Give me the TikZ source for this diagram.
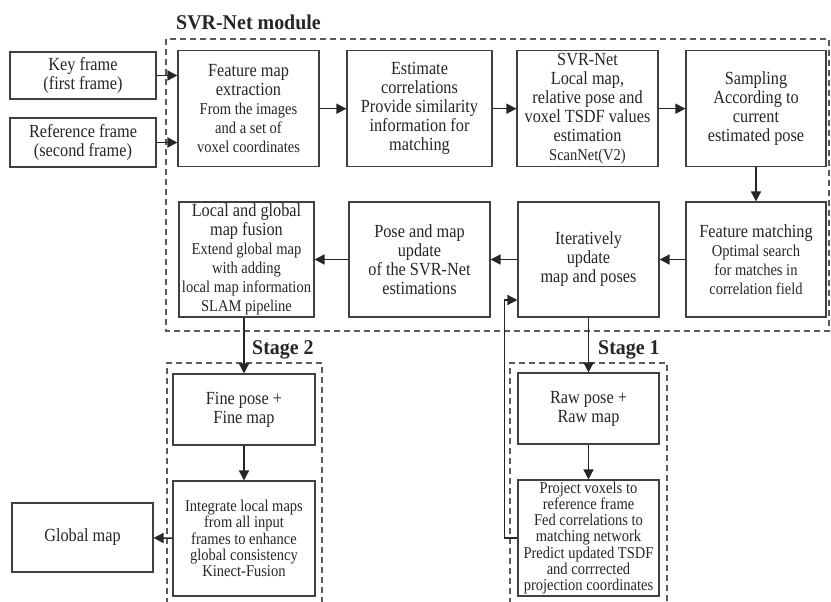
\documentclass[tikz,border=0pt]{standalone}
\usepackage{fontspec}
\setmainfont{Liberation Serif}[FakeStretch=0.88]
\newfontfamily\headfont{Liberation Serif}[FakeStretch=0.95]
\usetikzlibrary{arrows.meta,calc}
\definecolor{ink}{HTML}{262626}
\definecolor{edge}{HTML}{404040}
\definecolor{dash}{HTML}{5A5A5A}
\newcommand{\bigtxt}{\fontsize{18.5}{19}\selectfont}
\newcommand{\smalltxt}{\fontsize{16.5}{16.3}\selectfont}
\begin{document}
\begin{tikzpicture}[x=1pt,y=-1pt,
  box/.style={draw=edge,line width=1.1pt,fill=white,text=ink,align=center,
    inner sep=1pt,font=\bigtxt},
  arr/.style={draw=ink,line width=1.5pt,-{Triangle[length=10pt,width=10pt]}},
  region/.style={draw=dash,line width=1.1pt,dash pattern=on 6pt off 4pt},
  title/.style={font=\headfont\fontsize{21}{22}\selectfont\bfseries,text=ink,inner sep=0pt,anchor=west}]
\useasboundingbox (0,0) rectangle (831,602);
\fill[white] (0,0) rectangle (831,602);

% dashed regions
\draw[region] (166,39) rectangle (829,331);
\draw[region] (167,604) -- (167,363) -- (322,363) -- (322,604);
\draw[region] (510,604) -- (510,363) -- (667,363) -- (667,604);

% region titles
\node[title] (tsvr) at (176,22) {SVR-Net module};
\node[title] (tst2) at (252,350) {Stage 2};
\node[title] (tst1) at (598,350) {Stage 1};

% inputs
\node[box,minimum width=146pt,minimum height=47pt] (key) at (83,75.5) {Key frame\\(first frame)};
\node[box,minimum width=146pt,minimum height=49pt] (ref) at (83,142.5) {Reference frame\\(second frame)};

% first row
\node[box,minimum width=141pt,minimum height=116pt] (feat) at (248.5,108.7)
  {Feature map\\extraction\\{\smalltxt From the images}\\{\smalltxt and a set of}\\{\smalltxt voxel coordinates}};
\node[box,minimum width=145pt,minimum height=116pt] (est) at (419.5,108.7)
  {Estimate\\correlations\\Provide similarity\\information for\\matching};
\node[box,minimum width=141pt,minimum height=116pt] (svr) at (587.5,108.7)
  {SVR-Net\\Local map,\\relative pose and\\voxel TSDF values\\estimation\\{\smalltxt ScanNet(V2)}};
\node[box,minimum width=140pt,minimum height=116pt] (samp) at (756,108.7)
  {Sampling\\According to\\current\\estimated pose};

% second row
\node[box,minimum width=135pt,minimum height=115pt] (local) at (246.5,259.5)
  {Local and global\\map fusion\\{\smalltxt Extend global map}\\{\smalltxt with adding}\\{\smalltxt local map information}\\{\smalltxt SLAM pipeline}};
\node[box,minimum width=141pt,minimum height=115pt] (pose) at (419.5,259.5)
  {Pose and map\\update\\of the SVR-Net\\estimations};
\node[box,minimum width=141pt,minimum height=115pt] (iter) at (588.5,259.5)
  {Iteratively\\update\\map and poses};
\node[box,minimum width=140pt,minimum height=115pt] (fm) at (756,259.5)
  {Feature matching\\{\smalltxt Optimal search}\\{\smalltxt for matches in}\\{\smalltxt correlation field}};

% stage 2
\node[box,minimum width=142pt,minimum height=71pt] (fine) at (244,409.5) {Fine pose +\\Fine map};
\node[box,minimum width=142pt,minimum height=115pt,font=\smalltxt] (integ) at (244,538.5)
  {Integrate local maps\\from all input\\frames to enhance\\global consistency\\Kinect-Fusion};
\node[box,minimum width=141pt,minimum height=69pt] (global) at (82.5,537.5) {Global map};

% stage 1
\node[box,minimum width=141pt,minimum height=71pt] (raw) at (588.5,408.5) {Raw pose +\\Raw map};
\node[box,minimum width=141pt,minimum height=116pt,font=\smalltxt] (proj) at (588.5,538)
  {Project voxels to\\reference frame\\Fed correlations to\\matching network\\Predict updated TSDF\\and corrrected\\projection coordinates};

% connectors
\draw[arr] (key.east) -- (key.east -| feat.west);
\draw[arr] (ref.east) -- (ref.east -| feat.west);
\draw[arr] (feat) -- (est);
\draw[arr] (est) -- (svr);
\draw[arr] (svr) -- (samp);
\draw[arr] (samp) -- (fm);
\draw[arr] (fm) -- (iter);
\draw[arr] (iter) -- (pose);
\draw[arr] (pose) -- (local);
\draw[arr] (fine.north |- local.south) -- (fine.north);
\draw[arr] (fine) -- (integ);
\draw[arr] (integ) -- (global);
\draw[arr] (iter) -- (raw);
\draw[arr] (raw) -- (proj);
\draw[arr] (proj.west) -- ++(-13,0) |- ($(iter.west)+(0,40.5)$);
\end{tikzpicture}
\end{document}
